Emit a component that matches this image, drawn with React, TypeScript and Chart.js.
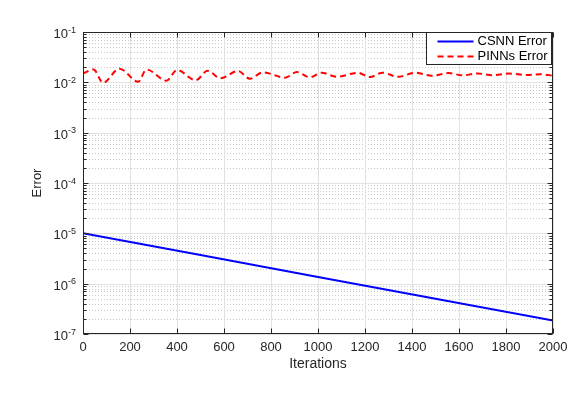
import { useEffect, useRef } from "react";
import { Chart, registerables } from "chart.js";

Chart.register(...registerables);

const csnnIter = [0, 500, 1000, 1500, 2000];
const csnnErr = [1e-5, 3.7e-6, 1.36e-6, 5e-7, 1.85e-7];

const pinnsIter = [0, 45, 85, 155, 235, 270, 355, 400, 480, 530, 585, 660, 710, 765, 860, 910, 965, 1015, 1080, 1170, 1220, 1275, 1340, 1415, 1485, 1555, 1615, 1680, 1740, 1810, 1890, 1945, 2000];
const pinnsErr = [0.015, 0.018, 0.0098, 0.0187, 0.0103, 0.018, 0.0108, 0.0176, 0.011, 0.017, 0.012, 0.0168, 0.0118, 0.0158, 0.0124, 0.016, 0.0126, 0.0155, 0.0129, 0.0155, 0.0127, 0.0155, 0.0129, 0.0155, 0.0135, 0.0153, 0.0138, 0.015, 0.0138, 0.0149, 0.014, 0.0145, 0.0135];

const xTickValues = [0, 200, 400, 600, 800, 1000, 1200, 1400, 1600, 1800, 2000];
const yTickExponents = [-7, -6, -5, -4, -3, -2, -1];
const seriesLabels = ["CSNN Error", "PINNs Error"];
const xTitle = "Iterations";
const yTitle = "Error";

const FONT = '"Liberation Sans", Arial, Helvetica, sans-serif';
const AX = "#262626";

function hline(ctx: CanvasRenderingContext2D, x1: number, x2: number, y: number) {
  ctx.beginPath();
  ctx.moveTo(x1, y);
  ctx.lineTo(x2, y);
  ctx.stroke();
}
function vline(ctx: CanvasRenderingContext2D, x: number, y1: number, y2: number) {
  ctx.beginPath();
  ctx.moveTo(x, y1);
  ctx.lineTo(x, y2);
  ctx.stroke();
}

const axesPlugin = {
  id: "matlabAxes",
  beforeDatasetsDraw(chart: any) {
    const { ctx, chartArea: ca, scales } = chart;
    const xs = scales.x;
    const ys = scales.y;
    ctx.save();
    ctx.lineWidth = 1;
    // minor y grid (dotted)
    ctx.strokeStyle = "#c9c9c9";
    ctx.setLineDash([1, 2]);
    for (let i = 0; i < yTickExponents.length - 1; i++) {
      const e = yTickExponents[i];
      for (let k = 2; k <= 9; k++) {
        const y = Math.round(ys.getPixelForValue(k * Math.pow(10, e))) + 0.5;
        hline(ctx, ca.left, ca.right, y);
      }
    }
    ctx.setLineDash([]);
    // major grid
    ctx.strokeStyle = "#e2e2e2";
    for (const e of yTickExponents) {
      const y = Math.round(ys.getPixelForValue(Math.pow(10, e))) + 0.5;
      hline(ctx, ca.left, ca.right, y);
    }
    for (const v of xTickValues) {
      const x = Math.round(xs.getPixelForValue(v)) + 0.5;
      vline(ctx, x, ca.top, ca.bottom);
    }
    ctx.restore();
  },
  afterDatasetsDraw(chart: any) {
    const { ctx, chartArea: ca, scales } = chart;
    const xs = scales.x;
    const ys = scales.y;
    const L = Math.round(ca.left) + 0.5;
    const R = Math.round(ca.right) - 0.5;
    const T = Math.round(ca.top) + 0.5;
    const B = Math.round(ca.bottom) - 0.5;
    ctx.save();
    ctx.strokeStyle = AX;
    ctx.lineWidth = 1;
    // box
    ctx.strokeRect(L, T, R - L, B - T);
    // x ticks
    for (const v of xTickValues) {
      const x = Math.round(xs.getPixelForValue(v)) + 0.5;
      vline(ctx, x, B, B - 5);
      vline(ctx, x, T, T + 5);
    }
    // y ticks
    for (let i = 0; i < yTickExponents.length; i++) {
      const e = yTickExponents[i];
      const y = Math.round(ys.getPixelForValue(Math.pow(10, e))) + 0.5;
      hline(ctx, L, L + 5, y);
      hline(ctx, R, R - 5, y);
      if (i < yTickExponents.length - 1) {
        for (let k = 2; k <= 9; k++) {
          const ym = Math.round(ys.getPixelForValue(k * Math.pow(10, e))) + 0.5;
          hline(ctx, L, L + 3, ym);
          hline(ctx, R, R - 3, ym);
        }
      }
    }
    // x tick labels
    ctx.fillStyle = AX;
    ctx.font = `13px ${FONT}`;
    ctx.textAlign = "center";
    ctx.textBaseline = "middle";
    for (const v of xTickValues) {
      ctx.fillText(String(v), xs.getPixelForValue(v), ca.bottom + 13);
    }
    // y tick labels with superscripts
    for (const e of yTickExponents) {
      const y = ys.getPixelForValue(Math.pow(10, e));
      const sup = String(e);
      ctx.font = `9px ${FONT}`;
      const sw = ctx.measureText(sup).width;
      const xr = ca.left - 7;
      ctx.textAlign = "left";
      ctx.textBaseline = "alphabetic";
      ctx.fillText(sup, xr - sw, y + 0.5);
      ctx.font = `13px ${FONT}`;
      ctx.textAlign = "right";
      ctx.textBaseline = "middle";
      ctx.fillText("10", xr - sw, y + 2.5);
    }
    // titles
    ctx.font = `14px ${FONT}`;
    ctx.textAlign = "center";
    ctx.textBaseline = "middle";
    ctx.fillText(xTitle, (ca.left + ca.right) / 2, ca.bottom + 30);
    ctx.save();
    ctx.translate(37.5, (ca.top + ca.bottom) / 2);
    ctx.rotate(-Math.PI / 2);
    ctx.font = `13px ${FONT}`;
    ctx.fillText(yTitle, 0, 0);
    ctx.restore();
    // legend
    const lx = 426.5;
    const ly = T;
    const lw = R - 1 - lx;
    const lh = 32;
    ctx.fillStyle = "#ffffff";
    ctx.fillRect(lx, ly, lw, lh);
    ctx.strokeStyle = AX;
    ctx.strokeRect(lx, ly, lw, lh);
    const dsets = chart.data.datasets;
    for (let i = 0; i < dsets.length; i++) {
      const d = dsets[i];
      const yy = ly + 9 + i * 15;
      ctx.strokeStyle = d.borderColor;
      ctx.lineWidth = 2;
      ctx.setLineDash(d.borderDash || []);
      hline(ctx, lx + 11, lx + 47, yy);
      ctx.setLineDash([]);
      ctx.fillStyle = "#000000";
      ctx.font = `13px ${FONT}`;
      ctx.textAlign = "left";
      ctx.textBaseline = "middle";
      ctx.fillText(d.label, lx + 51, yy);
    }
    ctx.restore();
  },
};

export default function App() {
  const ref = useRef<HTMLCanvasElement | null>(null);
  useEffect(() => {
    if (!ref.current) return;
    const chart = new Chart(ref.current, {
      type: "line",
      data: {
        datasets: [
          {
            label: seriesLabels[0],
            data: csnnIter.map((x, i) => ({ x, y: csnnErr[i] })),
            borderColor: "#0000ff",
            borderWidth: 2,
            pointRadius: 0,
            fill: false,
          },
          {
            label: seriesLabels[1],
            data: pinnsIter.map((x, i) => ({ x, y: pinnsErr[i] })),
            borderColor: "#ff0000",
            borderWidth: 2,
            borderDash: [6, 4],
            pointRadius: 0,
            cubicInterpolationMode: "monotone",
            fill: false,
          },
        ],
      },
      options: {
        responsive: false,
        animation: false,
        layout: { padding: { top: 32, right: 23, left: 0, bottom: 0 } },
        plugins: { legend: { display: false }, tooltip: { enabled: false } },
        scales: {
          x: {
            type: "linear",
            min: 0,
            max: 2000,
            grid: { display: false },
            border: { display: false },
            ticks: { display: false },
            afterFit: (s: any) => {
              s.height = 62;
            },
          },
          y: {
            type: "logarithmic",
            min: 1e-7,
            max: 1e-1,
            grid: { display: false },
            border: { display: false },
            ticks: { display: false },
            afterFit: (s: any) => {
              s.width = 83;
            },
          },
        },
      },
      plugins: [axesPlugin],
    } as any);
    return () => chart.destroy();
  }, []);
  return (
    <div style={{ position: "absolute", left: 0, top: 0, width: 576, height: 396, background: "#fff" }}>
      <canvas ref={ref} width={576} height={396} />
    </div>
  );
}
